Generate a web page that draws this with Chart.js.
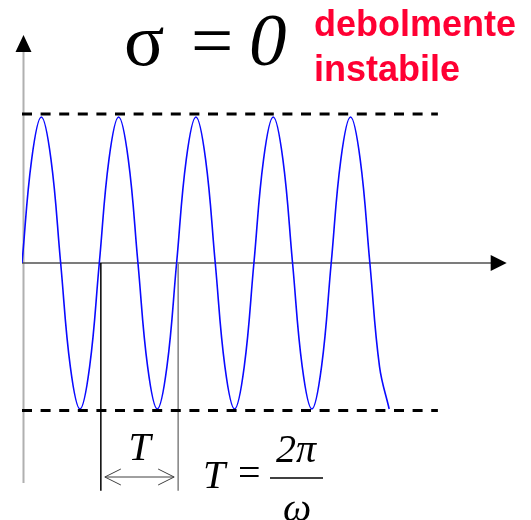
<!DOCTYPE html>
<html>
<head>
<meta charset="utf-8">
<script src="https://cdn.jsdelivr.net/npm/chart.js@4"></script>
<style>
  html, body { margin: 0; padding: 0; background: #fff; }
  #wrap { width: 531px; height: 520px; }
</style>
</head>
<body>
<div id="wrap"><canvas id="waveChart"></canvas></div>
<script>
// one sample every 1/8 of a period, time measured in periods
const waveStep = 0.125
const waveY = [
  0, 0.71, 1, 0.71, 0, -0.71, -1, -0.71,
  0, 0.71, 1, 0.71, 0, -0.71, -1, -0.71,
  0, 0.71, 1, 0.71, 0, -0.71, -1, -0.71,
  0, 0.71, 1, 0.71, 0, -0.71, -1, -0.71,
  0, 0.71, 1, 0.71, 0, -0.71, -1
]
// envelope (dashed) lines
const boundTop = 1.02
const boundBottom = -1.01
const boundEnd = 5.38
// period markers below the axis
const periodMarks = [1.02, 2.02]
const markDepth = -1.56

const wavePoints = waveY.map((y, i) => ({ x: i * waveStep, y: y }))

const dashed = {
  borderColor: '#000',
  borderWidth: 3,
  borderDash: [10, 8.6],
  borderCapStyle: 'butt',
  pointRadius: 0,
  fill: false
}

const data = {
  datasets: [
    Object.assign({ data: [{ x: 0, y: boundTop }, { x: boundEnd, y: boundTop }] }, dashed),
    Object.assign({ data: [{ x: 0, y: boundBottom }, { x: boundEnd, y: boundBottom }] }, dashed),
    {
      data: [{ x: periodMarks[0], y: 0 }, { x: periodMarks[0], y: markDepth }],
      borderColor: '#000', borderWidth: 1.5, pointRadius: 0
    },
    {
      data: [{ x: periodMarks[1], y: 0 }, { x: periodMarks[1], y: markDepth }],
      borderColor: '#808080', borderWidth: 1.5, pointRadius: 0
    },
    {
      data: wavePoints,
      borderColor: '#0a0aff',
      borderWidth: 1.6,
      tension: 0.4,
      pointRadius: 0,
      fill: false
    }
  ]
}

// axes with arrow heads, period arrow and the formulas
const decorations = {
  id: 'decorations',
  beforeDatasetsDraw(chart) {
    const ctx = chart.ctx
    const xs = chart.scales.x, ys = chart.scales.y
    const x0 = xs.getPixelForValue(0), y0 = ys.getPixelForValue(0)
    ctx.save()
    // vertical axis
    ctx.strokeStyle = '#b0b0b0'
    ctx.lineWidth = 2
    ctx.beginPath()
    ctx.moveTo(x0 + 1.5, ys.getPixelForValue(-1.507))
    ctx.lineTo(x0 + 1.5, chart.chartArea.top + 14)
    ctx.stroke()
    ctx.fillStyle = '#000'
    ctx.beginPath()
    ctx.moveTo(x0 + 1.5, chart.chartArea.top - 1)
    ctx.lineTo(x0 - 6.5, chart.chartArea.top + 16)
    ctx.lineTo(x0 + 9.5, chart.chartArea.top + 16)
    ctx.closePath()
    ctx.fill()
    // horizontal axis
    const tip = xs.getPixelForValue(6.27)
    ctx.strokeStyle = '#505050'
    ctx.lineWidth = 1.5
    ctx.beginPath()
    ctx.moveTo(x0, y0)
    ctx.lineTo(tip - 14, y0)
    ctx.stroke()
    ctx.beginPath()
    ctx.moveTo(tip, y0)
    ctx.lineTo(tip - 16, y0 - 8)
    ctx.lineTo(tip - 16, y0 + 8)
    ctx.closePath()
    ctx.fill()
    ctx.restore()
  },
  afterDatasetsDraw(chart) {
    const ctx = chart.ctx
    const xs = chart.scales.x
    const a = xs.getPixelForValue(periodMarks[0]) + 4
    const b = xs.getPixelForValue(periodMarks[1]) - 4
    const ay = 477
    ctx.save()
    // double arrow for T
    ctx.strokeStyle = '#404040'
    ctx.lineWidth = 1
    ctx.beginPath()
    ctx.moveTo(a, ay); ctx.lineTo(b, ay)
    ctx.moveTo(a + 16, ay - 8); ctx.lineTo(a, ay); ctx.lineTo(a + 16, ay + 8)
    ctx.moveTo(b - 16, ay - 8); ctx.lineTo(b, ay); ctx.lineTo(b - 16, ay + 8)
    ctx.stroke()

    ctx.fillStyle = '#000'
    ctx.textBaseline = 'alphabetic'
    ctx.textAlign = 'center'
    ctx.font = 'italic 40px "Liberation Serif", "DejaVu Serif", serif'
    ctx.fillText('T', (a + b) / 2, 460)

    // T = 2π / ω
    ctx.textAlign = 'left'
    ctx.fillText('T', 203, 488)
    ctx.font = '40px "Liberation Serif", serif'
    ctx.fillText('=', 238, 486)
    ctx.font = 'italic 40px "Liberation Serif", serif'
    ctx.textAlign = 'center'
    ctx.fillText('2π', 296, 462)
    ctx.fillText('ω', 297, 521)
    ctx.lineWidth = 1.5
    ctx.strokeStyle = '#000'
    ctx.beginPath()
    ctx.moveTo(270, 478); ctx.lineTo(323, 478)
    ctx.stroke()

    // σ = 0
    ctx.textAlign = 'left'
    ctx.font = '75px "Liberation Serif", serif'
    ctx.fillText('σ', 124, 65)
    ctx.fillText('=', 191, 65)
    ctx.font = 'italic 75px "Liberation Serif", serif'
    ctx.fillText('0', 249, 65)

    ctx.fillStyle = '#ff0033'
    ctx.font = 'bold 36px "Liberation Sans", Arial, sans-serif'
    ctx.fillText('debolmente', 314, 36)
    ctx.fillText('instabile', 314, 81)
    ctx.restore()
  }
}

const config = {
  type: 'line',
  data: data,
  options: {
    responsive: true,
    maintainAspectRatio: false,
    animation: false,
    events: [],
    layout: { padding: { left: 22, right: 22, top: 36, bottom: 1.5 } },
    plugins: { legend: { display: false }, tooltip: { enabled: false } },
    scales: {
      x: { type: 'linear', min: 0, max: 6.3, display: false },
      y: { min: -1.75, max: 1.555, display: false }
    }
  },
  plugins: [decorations]
}

const myChart = new Chart(document.getElementById('waveChart'), config)
</script>
</body>
</html>
